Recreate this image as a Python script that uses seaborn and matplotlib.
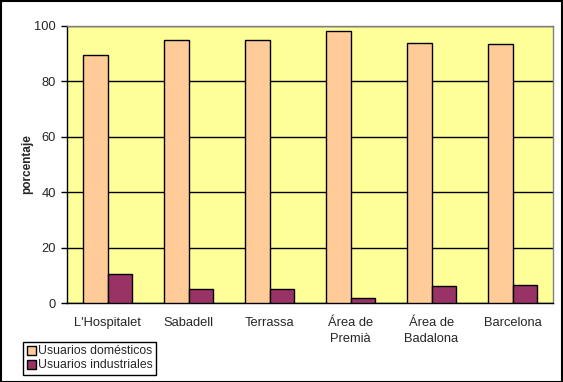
import numpy as np
import pandas as pd
import matplotlib
matplotlib.use("Agg")
import matplotlib.pyplot as plt
import seaborn as sns
from matplotlib.patches import Rectangle

# datos
ciudades = ["L'Hospitalet", "Sabadell", "Terrassa", "Área de\nPremià", "Área de\nBadalona", "Barcelona"]
domesticos = [89.5, 95.0, 95.0, 98.2, 93.9, 93.5]
industriales = [10.5, 5.0, 5.0, 1.8, 6.1, 6.5]
series = ["Usuarios domésticos", "Usuarios industriales"]
colores = ["#FFCC99", "#993366"]

df = pd.DataFrame({
    "ciudad": ciudades * 2,
    "valor": domesticos + industriales,
    "serie": [series[0]] * len(ciudades) + [series[1]] * len(ciudades),
})

sns.set_style("white")
plt.rcParams["font.family"] = ["Liberation Sans", "DejaVu Sans"]
plt.rcParams["font.size"] = 9.3

fig = plt.figure(figsize=(5.63, 3.82), dpi=100)
ax = fig.add_axes([67 / 563, 1 - 303 / 382, 486 / 563, 277 / 382])
ax.set_facecolor("#FFFF99")

sns.barplot(data=df, x="ciudad", y="valor", hue="serie", palette=colores, saturation=1,
            width=0.6, gap=0, edgecolor="black", linewidth=1, ax=ax, zorder=3)

ax.set_ylim(0, 100)
ax.set_xlim(-0.5, len(ciudades) - 0.5)
ax.set_yticks([0, 20, 40, 60, 80, 100])
ax.yaxis.grid(True, color="black", linewidth=1)
ax.set_axisbelow(True)
for b in ax.patches:
    b.set_zorder(3)

ax.set_xlabel("")
ax.set_ylabel("porcentaje", fontweight="bold", fontsize=8.5, labelpad=1)

ax.set_xticks(np.arange(len(ciudades)))
ax.set_xticklabels(ciudades, linespacing=1.45)
ax.set_xticks(np.arange(len(ciudades) + 1) - 0.5, minor=True)
ax.tick_params(axis="x", which="major", length=0, pad=10)
ax.tick_params(axis="x", which="minor", length=4, width=1, color="black", direction="out")
ax.tick_params(axis="y", length=4, width=1, color="black", direction="out", left=True, pad=4)

for s in ["left", "bottom"]:
    ax.spines[s].set_color("black")
    ax.spines[s].set_linewidth(1)
for s in ["top", "right"]:
    ax.spines[s].set_color("#808080")
    ax.spines[s].set_linewidth(1)

handles, labels = ax.get_legend_handles_labels()
ax.legend(handles, labels, loc="lower left", bbox_to_anchor=(23 / 563, 7 / 382),
          bbox_transform=fig.transFigure, frameon=True, fancybox=False,
          edgecolor="black", framealpha=1, borderpad=0.3, handlelength=0.75,
          handleheight=0.75, handletextpad=0.15, labelspacing=0.15, borderaxespad=0,
          fontsize=8.8)
ax.get_legend().get_frame().set_linewidth(1)

fig.patches.append(Rectangle((0.001, 0.001), 0.997, 0.997, transform=fig.transFigure,
                             fill=False, edgecolor="black", linewidth=1.5))

fig.savefig("out.png", dpi=100, facecolor="white")
